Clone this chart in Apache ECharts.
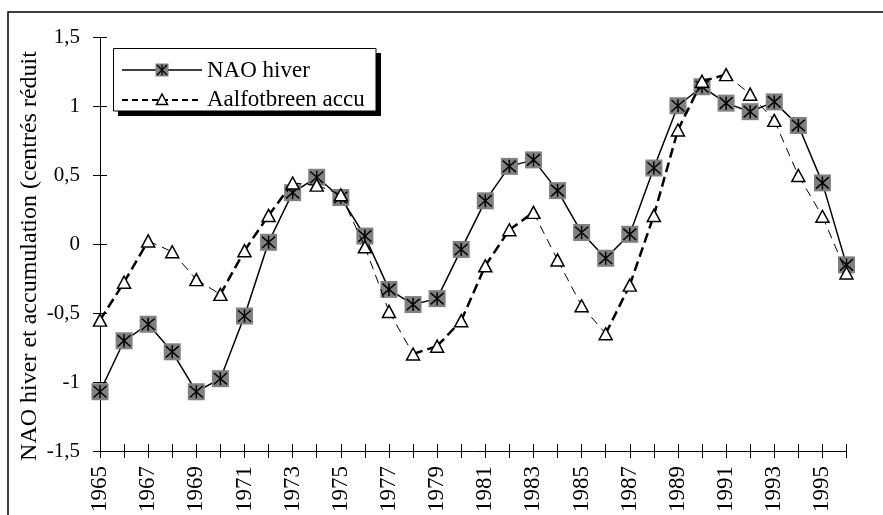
<!DOCTYPE html>
<html>
<head>
<meta charset="utf-8">
<script src="https://cdn.jsdelivr.net/npm/echarts@6/dist/echarts.min.js"></script>
<style>
  html, body { margin: 0; padding: 0; background: #fff; }
  #chart { width: 883px; height: 515px; }
</style>
</head>
<body>
<div id="chart"></div>
<script>
// Winter NAO index and Aalfotbreen winter accumulation, standardised values
const years = ['1965','1966','1967','1968','1969','1970','1971','1972','1973','1974',
  '1975','1976','1977','1978','1979','1980','1981','1982','1983','1984',
  '1985','1986','1987','1988','1989','1990','1991','1992','1993','1994',
  '1995','1996'];

const naoHiver = [-1.07, -0.70, -0.58, -0.78, -1.07, -0.975, -0.52, 0.015, 0.375, 0.487,
  0.34, 0.06, -0.327, -0.437, -0.394, -0.037, 0.316, 0.566, 0.613, 0.39,
  0.086, -0.101, 0.073, 0.554, 1.006, 1.144, 1.025, 0.963, 1.034, 0.863,
  0.446, -0.149];

const aalfotAccu = [-0.55, -0.275, 0.025, -0.054, -0.256, -0.363, -0.046, 0.21, 0.445, 0.43,
  0.36, -0.018, -0.487, -0.796, -0.739, -0.554, -0.156, 0.106, 0.232, -0.113,
  -0.446, -0.649, -0.296, 0.21, 0.83, 1.184, 1.232, 1.09, 0.90, 0.50,
  0.204, -0.208];

const yTicks = { min: -1.5, max: 1.5, step: 0.5 };

const seriesNames = ['NAO hiver', 'Aalfotbreen accu'];
const axisTitle = 'NAO hiver et accumulation (centrés réduit';

const SERIF = '"Liberation Serif", "Times New Roman", serif';
const ASTERISK = 'path://M5,0L5,10M0.6,0.6L9.4,9.4M9.4,0.6L0.6,9.4';

// dashed segments: heavier strokes on rising stretches, light on falling ones
const accuSegments = [];
for (let i = 0; i < aalfotAccu.length - 1; i++) {
  const rising = aalfotAccu[i + 1] >= aalfotAccu[i];
  accuSegments.push({
    coords: [[i, aalfotAccu[i]], [i + 1, aalfotAccu[i + 1]]],
    lineStyle: rising
      ? { width: 2.5, type: [10, 5], color: '#000', opacity: 1 }
      : { width: 1, type: [9, 6], color: '#000', opacity: 1 }
  });
}

const chart = echarts.init(document.getElementById('chart'), null, { renderer: 'canvas' });

const tickLen = 7;
const xBase = {
  type: 'category',
  data: years,
  boundaryGap: false,
  position: 'bottom'
};
const yBase = {
  type: 'value',
  min: yTicks.min,
  max: yTicks.max,
  interval: yTicks.step,
  position: 'left',
  splitLine: { show: false }
};

const legendStroke = { stroke: '#000', lineWidth: 1.3 };

chart.setOption({
  animation: false,
  backgroundColor: '#fff',
  grid: { left: 100, right: 36.5, top: 37.7, bottom: 58.3, containLabel: false },
  xAxis: [
    Object.assign({}, xBase, {
      axisLine: { show: true, onZero: false, lineStyle: { color: '#000', width: 1 } },
      axisTick: { show: true, interval: 0, length: tickLen, lineStyle: { color: '#000', width: 1 } },
      axisLabel: {
        interval: 1, rotate: 90, margin: 15,
        fontFamily: SERIF, fontSize: 23, color: '#000'
      }
    }),
    Object.assign({}, xBase, {
      axisLine: { show: false, onZero: false },
      axisTick: { show: true, inside: true, interval: 0, length: tickLen, lineStyle: { color: '#000', width: 1 } },
      axisLabel: { show: false }
    })
  ],
  yAxis: [
    Object.assign({}, yBase, {
      axisLine: { show: true, onZero: false, lineStyle: { color: '#000', width: 1 } },
      axisTick: { show: true, length: tickLen, lineStyle: { color: '#000', width: 1 } },
      axisLabel: {
        margin: 20, fontFamily: SERIF, fontSize: 21, color: '#000',
        formatter: v => String(v).replace('.', ',')
      }
    }),
    Object.assign({}, yBase, {
      axisLine: { show: false, onZero: false },
      axisTick: { show: true, inside: true, length: tickLen, lineStyle: { color: '#000', width: 1 } },
      axisLabel: { show: false }
    })
  ],
  series: [
    {
      name: seriesNames[0],
      type: 'line',
      data: naoHiver,
      symbol: 'rect',
      symbolSize: 17,
      showAllSymbol: true,
      itemStyle: { color: '#808080', borderWidth: 0 },
      lineStyle: { color: '#000', width: 1.5 },
      z: 2
    },
    {
      name: seriesNames[0] + ' ',
      type: 'line',
      data: naoHiver,
      symbol: ASTERISK,
      symbolSize: 13,
      showAllSymbol: true,
      itemStyle: { color: 'transparent', borderColor: '#000', borderWidth: 1.5 },
      lineStyle: { width: 0, opacity: 0 },
      z: 3
    },
    {
      name: seriesNames[1] + ' ',
      type: 'lines',
      coordinateSystem: 'cartesian2d',
      polyline: false,
      data: accuSegments,
      lineStyle: { opacity: 1 },
      z: 4
    },
    {
      name: seriesNames[1],
      type: 'line',
      data: aalfotAccu,
      symbol: 'triangle',
      symbolSize: [13, 12],
      showAllSymbol: true,
      itemStyle: { color: '#fff', borderColor: '#000', borderWidth: 1.5 },
      lineStyle: { width: 0, opacity: 0 },
      z: 5
    }
  ],
  graphic: [
    // outer chart frame
    {
      type: 'rect', z: -10, silent: true,
      shape: { x: 8, y: 12, width: 1000, height: 1000 },
      style: { fill: 'none', stroke: '#000', lineWidth: 1.5 }
    },
    // vertical axis title
    {
      type: 'text', x: 30, y: 256, rotation: Math.PI / 2, z: 10,
      style: {
        text: axisTitle, fill: '#000',
        font: '24px ' + SERIF, align: 'center', verticalAlign: 'middle'
      }
    },
    // legend box with shadow
    {
      type: 'group', z: 20,
      children: [
        { type: 'rect', shape: { x: 118, y: 53, width: 263, height: 63 }, style: { fill: '#000' } },
        { type: 'rect', shape: { x: 113.5, y: 48.5, width: 262.5, height: 62.5 }, style: { fill: '#fff', stroke: '#000', lineWidth: 1 } },
        { type: 'line', shape: { x1: 122, y1: 70, x2: 202, y2: 70 }, style: { stroke: '#000', lineWidth: 1.5 } },
        { type: 'rect', shape: { x: 155.5, y: 63.5, width: 13, height: 13 }, style: { fill: '#808080' } },
        { type: 'line', shape: { x1: 162, y1: 64.5, x2: 162, y2: 75.5 }, style: legendStroke },
        { type: 'line', shape: { x1: 157, y1: 65, x2: 167, y2: 75 }, style: legendStroke },
        { type: 'line', shape: { x1: 167, y1: 65, x2: 157, y2: 75 }, style: legendStroke },
        { type: 'text', x: 207, y: 71, style: { text: seriesNames[0], fill: '#000', font: '23px ' + SERIF, verticalAlign: 'middle' } },
        { type: 'line', shape: { x1: 122, y1: 100, x2: 202, y2: 100 }, style: { stroke: '#000', lineWidth: 2, lineDash: [6, 4] } },
        { type: 'polygon', shape: { points: [[162, 94], [156.5, 104.5], [167.5, 104.5]] }, style: { fill: '#fff', stroke: '#000', lineWidth: 1.5 } },
        { type: 'text', x: 207, y: 100, style: { text: seriesNames[1], fill: '#000', font: '23px ' + SERIF, verticalAlign: 'middle' } }
      ]
    }
  ]
});
</script>
</body>
</html>
